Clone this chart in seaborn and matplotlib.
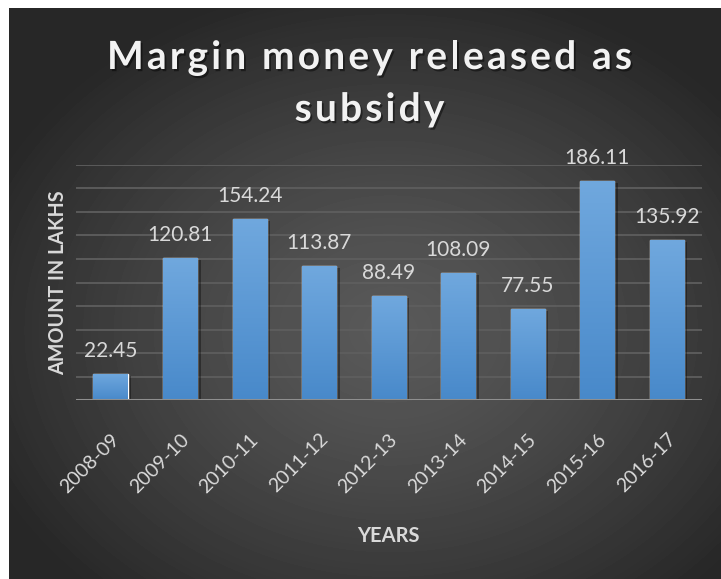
import numpy as np
import pandas as pd
import matplotlib
matplotlib.use("Agg")
import matplotlib.pyplot as plt
import seaborn as sns
from matplotlib import patheffects as pe
from matplotlib.colors import LinearSegmentedColormap
from matplotlib.textpath import TextPath, TextToPath
from matplotlib.patches import PathPatch
from matplotlib.transforms import Affine2D
from matplotlib.font_manager import FontProperties

years = ["2008-09", "2009-10", "2010-11", "2011-12", "2012-13",
         "2013-14", "2014-15", "2015-16", "2016-17"]
amounts = [22.45, 120.81, 154.24, 113.87, 88.49, 108.09, 77.55, 186.11, 135.92]
title_lines = ["Margin money released as", "subsidy"]
y_label = "AMOUNT IN LAKHS"
x_label = "YEARS"

df = pd.DataFrame({"year": years, "amount": amounts})

sns.set_theme(style="dark")
plt.rcParams['font.family'] = ['Lato', 'DejaVu Sans']

W, H = 721, 579
DPI = 100
fig = plt.figure(figsize=(W / DPI, H / DPI), dpi=DPI)
fig.patch.set_facecolor('white')

# dark radial-gradient background panel
bg = fig.add_axes([9 / W, 0, 1 - 9 / W, 1 - 8 / H], zorder=-10)
h, w = H - 8, W - 9
yy, xx = np.mgrid[0:h, 0:w]
cx, cy = 390 - 9, 330 - 8
r = np.sqrt(((xx - cx) / (w * 0.62)) ** 2 + ((yy - cy) / (h * 0.62)) ** 2)
r = np.clip(r, 0, 1)
center, edge = 0x59 / 255, 0x27 / 255
img = center - (center - edge) * r ** 1.3
bg.imshow(img, cmap='gray', vmin=0, vmax=1, aspect='auto', interpolation='bilinear')
bg.set_axis_off()

ax = fig.add_axes([75.7 / W, 1 - 400 / H, 626 / W, 235 / H])
ax.patch.set_alpha(0)
sns.barplot(data=df, x="year", y="amount", ax=ax, color="#5b9bd5", width=0.49,
            saturation=1)

# gradient fill for bars
grad = np.linspace(0, 1, 256).reshape(-1, 1)
bar_cmap = LinearSegmentedColormap.from_list("bar", ["#70a8de", "#4889ca"])
for p in ax.patches:
    x0, y0 = p.get_x(), p.get_y()
    bw, bh = p.get_width(), p.get_height()
    p.set_path_effects([pe.SimplePatchShadow(offset=(2.5, -1.5), shadow_rgbFace='black', alpha=0.35),
                        pe.Normal()])
    im = ax.imshow(grad, cmap=bar_cmap, extent=[x0, x0 + bw, y0, y0 + bh],
                   aspect='auto', zorder=p.get_zorder() + 0.1, origin='upper')
    im.set_clip_path(p)

ax.set_xlim(-0.5, len(years) - 0.5)
ax.set_ylim(0, 200)
ax.set_yticks(np.arange(0, 201, 20))
ax.set_yticklabels([])
ax.grid(axis='y', color='#5e5e5e', linewidth=1.3)
ax.grid(axis='x', visible=False)
ax.set_axisbelow(True)
for s in ax.spines.values():
    s.set_visible(False)
ax.axhline(0, color='#8f8f8f', linewidth=2.2, zorder=5)
ax.tick_params(axis='both', length=0)
ax.set_xticks(range(len(years)))
ax.set_xticklabels(years, rotation=45, ha='right', va='top', rotation_mode='anchor',
                   color='#d9d9d9', fontsize=14)
ax.tick_params(axis='x', pad=22)
ax.set_xlabel("")
ax.set_ylabel("")

for i, v in enumerate(amounts):
    ax.annotate(f"{v:.2f}", xy=(i, v), xytext=(0, 12.2), textcoords='offset points',
                ha='center', va='baseline', color='#d9d9d9', fontsize=15)

# title with letter spacing (drawn as glyph paths in pixel coordinates)
ttp = TextToPath()
def spaced_line(line, cx_px, baseline_top_px, size_pt, target_w=None, spacing_px=None,
                color='#f2f2f2'):
    fp = FontProperties(family='Lato', weight='bold', size=size_pt)
    sc = DPI / 72.0
    base = ttp.get_text_width_height_descent('||', fp, ismath=False)[0]
    advs = [(ttp.get_text_width_height_descent('|' + c + '|', fp, ismath=False)[0] - base) * sc
            for c in line]
    if spacing_px is None:
        spacing_px = (target_w - sum(advs)) / (len(line) - 1)
    total = sum(advs) + spacing_px * (len(line) - 1)
    x = cx_px - total / 2
    y = H - baseline_top_px
    for c, a in zip(line, advs):
        if c != ' ':
            tp = TextPath((0, 0), c, size=size_pt, prop=fp)
            sh = PathPatch(tp, transform=Affine2D().scale(sc).translate(x + 1.8, y - 2.2),
                           facecolor='black', edgecolor='none', alpha=0.45)
            gp = PathPatch(tp, transform=Affine2D().scale(sc).translate(x, y),
                           facecolor=color, edgecolor='none')
            fig.add_artist(sh)
            fig.add_artist(gp)
        x += a + spacing_px
    return spacing_px

sp = spaced_line(title_lines[0], 369.5, 69, 28, target_w=525)
spaced_line(title_lines[1], 369.5, 121, 28, spacing_px=sp)

fig.text(58.5 / W, 1 - 283 / H, y_label, rotation=90, ha='center', va='center',
         fontsize=14.2, fontweight='bold', color='#d9d9d9')
fig.text(388.5 / W, 1 - 535.5 / H, x_label, ha='center', va='center',
         fontsize=14.5, fontweight='bold', color='#d9d9d9')

fig.savefig("out.png", dpi=DPI)
